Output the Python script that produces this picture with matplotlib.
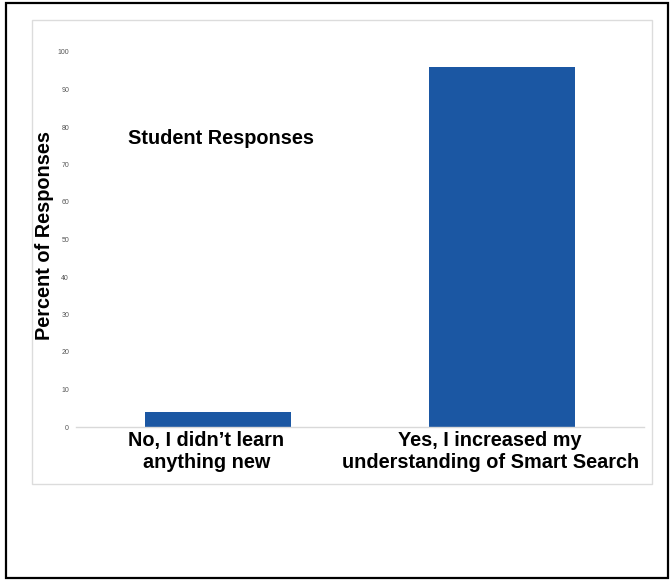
import matplotlib
matplotlib.use("Agg")
import matplotlib.pyplot as plt
from matplotlib.patches import Rectangle

categories = ["No, I didn\u2019t learn\nanything new",
              "Yes, I increased my\nunderstanding of Smart Search"]
percent = [4, 96]
yticks = [0, 10, 20, 30, 40, 50, 60, 70, 80, 90, 100]

W, H = 671, 581
fig = plt.figure(figsize=(W / 100, H / 100), dpi=100)
plt.rcParams['font.family'] = ['Liberation Sans', 'DejaVu Sans']

# outer black frame and light chart frame
fig.patches.append(Rectangle((6 / W, 3 / H), 662 / W, 575 / H, transform=fig.transFigure,
                             fill=False, edgecolor='black', linewidth=1.6))
fig.patches.append(Rectangle((32 / W, 1 - 484 / H), 620 / W, 464 / H, transform=fig.transFigure,
                             fill=False, edgecolor='#dcdcdc', linewidth=1.0))

ax = fig.add_axes([76 / W, 1 - 427 / H, 568 / W, 375 / H])
x = list(range(len(categories)))
ax.bar(x, percent, width=0.515, color='#1b57a3')
ax.set_xlim(-0.5, 1.5)
ax.set_ylim(0, 100)
ax.set_yticks(yticks)
ax.set_yticklabels([str(t) for t in yticks], fontsize=5, color='#555555')
ax.set_xticks(x)
ax.set_xticklabels([])
ax.tick_params(axis='y', length=0, pad=5)
ax.tick_params(axis='x', length=0)
for s in ['top', 'right', 'left']:
    ax.spines[s].set_visible(False)
ax.spines['bottom'].set_color('#d9d9d9')
ax.spines['bottom'].set_linewidth(1.0)

# category labels, set slightly left of the bar centres
for xi, cat in zip(x, categories):
    ax.annotate(cat, xy=(xi, 0), xycoords=('data', 'axes fraction'),
                xytext=(-8.5, -3), textcoords='offset points',
                ha='center', va='top', fontsize=14.3, fontweight='bold',
                linespacing=1.17, annotation_clip=False)

ax.set_ylabel("Percent of Responses", fontsize=14.3, fontweight='bold', va='center')
ax.yaxis.set_label_coords(-0.056, 0.51)
ax.text(0.0915, 0.768, "Student Responses", transform=ax.transAxes,
        fontsize=14.3, fontweight='bold', ha='left', va='center')

fig.savefig("out.png", dpi=100)
